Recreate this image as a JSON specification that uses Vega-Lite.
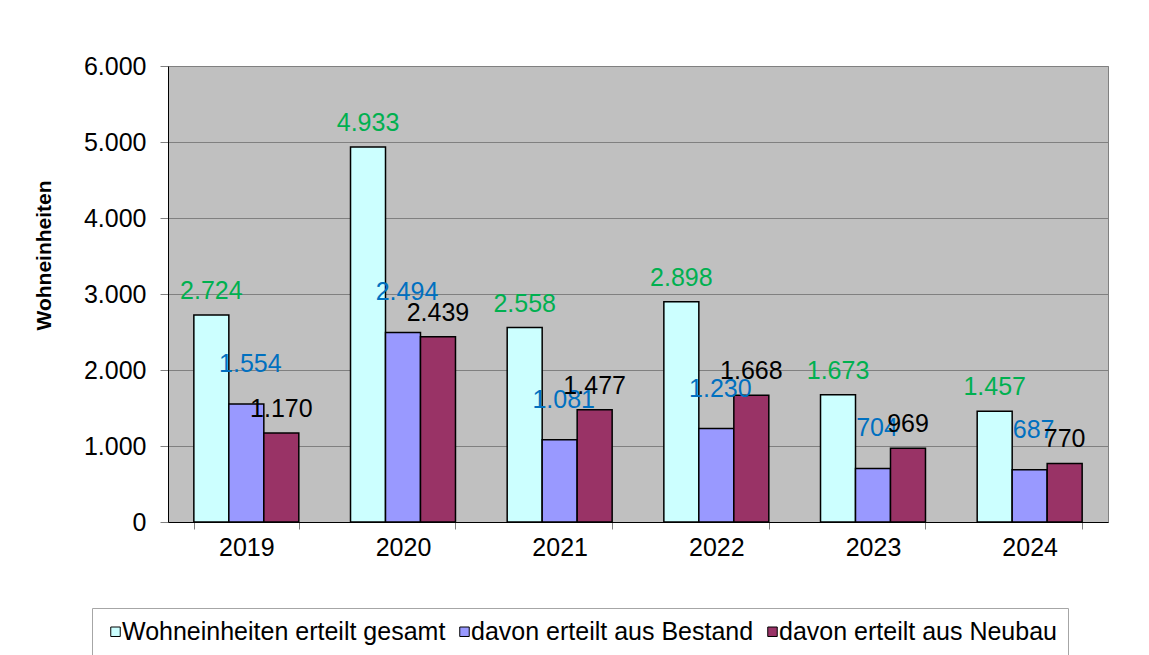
{
  "$schema": "https://vega.github.io/schema/vega-lite/v6.json",
  "width": 940,
  "height": 456,
  "autosize": {"type": "none"},
  "padding": {"left": 168, "top": 66, "right": 41, "bottom": 133},
  "background": "white",
  "config": {
    "locale": {"number": {"decimal": ",", "thousands": ".", "grouping": [3], "currency": ["", " €"]}},
    "font": "Liberation Sans",
    "view": {"fill": "#c0c0c0", "stroke": "#808080", "strokeWidth": 1}
  },
  "data": {
    "values": [
      {"year": "2019", "series": "Wohneinheiten erteilt gesamt", "value": 2724},
      {"year": "2019", "series": "davon erteilt aus Bestand", "value": 1554},
      {"year": "2019", "series": "davon erteilt aus Neubau", "value": 1170},
      {"year": "2020", "series": "Wohneinheiten erteilt gesamt", "value": 4933},
      {"year": "2020", "series": "davon erteilt aus Bestand", "value": 2494},
      {"year": "2020", "series": "davon erteilt aus Neubau", "value": 2439},
      {"year": "2021", "series": "Wohneinheiten erteilt gesamt", "value": 2558},
      {"year": "2021", "series": "davon erteilt aus Bestand", "value": 1081},
      {"year": "2021", "series": "davon erteilt aus Neubau", "value": 1477},
      {"year": "2022", "series": "Wohneinheiten erteilt gesamt", "value": 2898},
      {"year": "2022", "series": "davon erteilt aus Bestand", "value": 1230},
      {"year": "2022", "series": "davon erteilt aus Neubau", "value": 1668},
      {"year": "2023", "series": "Wohneinheiten erteilt gesamt", "value": 1673},
      {"year": "2023", "series": "davon erteilt aus Bestand", "value": 704},
      {"year": "2023", "series": "davon erteilt aus Neubau", "value": 969},
      {"year": "2024", "series": "Wohneinheiten erteilt gesamt", "value": 1457},
      {"year": "2024", "series": "davon erteilt aus Bestand", "value": 687},
      {"year": "2024", "series": "davon erteilt aus Neubau", "value": 770}
    ]
  },
  "encoding": {
    "x": {
      "field": "year",
      "type": "nominal",
      "scale": {"paddingInner": 0.33, "paddingOuter": 0.165},
      "axis": {
        "title": null,
        "labelAngle": 0,
        "labelFontSize": 25,
        "labelColor": "black",
        "tickBand": "extent",
        "tickSize": 7,
        "tickColor": "#808080",
        "domainColor": "black",
        "labelPadding": 6
      }
    },
    "xOffset": {
      "field": "series",
      "type": "nominal",
      "sort": ["Wohneinheiten erteilt gesamt", "davon erteilt aus Bestand", "davon erteilt aus Neubau"],
      "scale": {"paddingInner": 0, "paddingOuter": 0}
    },
    "y": {
      "field": "value",
      "type": "quantitative",
      "scale": {"domain": [0, 6000]},
      "axis": {
        "values": [0, 1000, 2000, 3000, 4000, 5000, 6000],
        "format": ",d",
        "grid": true,
        "gridColor": "#808080",
        "gridOpacity": 1,
        "labelFontSize": 25,
        "labelColor": "black",
        "labelPadding": 14,
        "tickSize": 8,
        "tickColor": "#808080",
        "domainColor": "black",
        "title": "Wohneinheiten",
        "titleFontSize": 21,
        "titleFontWeight": "bold",
        "titleColor": "black",
        "titleAngle": -90,
        "titleX": -124,
        "titleY": 189,
        "titleAlign": "center",
        "titleBaseline": "middle"
      }
    }
  },
  "layer": [
    {
      "mark": {"type": "bar", "stroke": "black", "strokeWidth": 1.5},
      "encoding": {
        "color": {
          "field": "series",
          "type": "nominal",
          "scale": {
            "domain": ["Wohneinheiten erteilt gesamt", "davon erteilt aus Bestand", "davon erteilt aus Neubau"],
            "range": ["#ccffff", "#9999ff", "#993366"]
          },
          "legend": {
            "orient": "none",
            "legendX": -76,
            "legendY": 542,
            "direction": "horizontal",
            "title": null,
            "labelFontSize": 25,
            "labelColor": "black",
            "labelLimit": 0,
            "symbolType": "square",
            "symbolSize": 90,
            "symbolStrokeColor": "black",
            "symbolStrokeWidth": 1,
            "symbolOpacity": 1,
            "strokeColor": "#a6a6a6",
            "padding": 11,
            "columnPadding": 6,
            "labelOffset": -6
          }
        }
      }
    },
    {
      "transform": [{"filter": "datum.series == 'Wohneinheiten erteilt gesamt'"}],
      "mark": {"type": "text", "fontSize": 25, "dy": -24, "baseline": "middle", "color": "#00b050"},
      "encoding": {"text": {"field": "value", "type": "quantitative", "format": ",d"}}
    },
    {
      "transform": [{"filter": "datum.series == 'davon erteilt aus Bestand'"}],
      "mark": {"type": "text", "fontSize": 25, "dy": -40, "dx": 4, "baseline": "middle", "color": "#0070c0"},
      "encoding": {"text": {"field": "value", "type": "quantitative", "format": ",d"}}
    },
    {
      "transform": [{"filter": "datum.series == 'davon erteilt aus Neubau'"}],
      "mark": {"type": "text", "fontSize": 25, "dy": -24, "baseline": "middle", "color": "black"},
      "encoding": {"text": {"field": "value", "type": "quantitative", "format": ",d"}}
    }
  ]
}
